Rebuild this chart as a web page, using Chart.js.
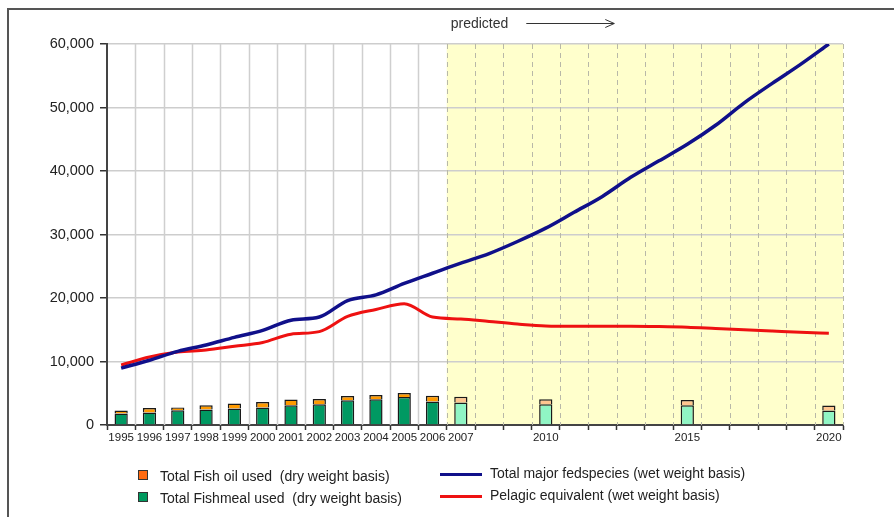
<!DOCTYPE html>
<html>
<head>
<meta charset="utf-8">
<script src="https://cdn.jsdelivr.net/npm/chart.js@4.4.0/dist/chart.umd.min.js"></script>
<style>
body { margin: 0; background: #fff; font-family: 'Liberation Sans', Arial, sans-serif; }
#wrap { position: relative; width: 894px; height: 517px; overflow: hidden; }
#frame { position: absolute; left: 7px; top: 8px; width: 920px; height: 540px; border-top: 2px solid #555; border-left: 2px solid #555; }
canvas { position: absolute; left: 0; top: 0; }
.leg { position: absolute; font-size: 14px; color: #222; white-space: pre; line-height: 16px; }
.sq { position: absolute; width: 8px; height: 8px; border: 1px solid #333; }
.ln { position: absolute; width: 42px; height: 3px; }
</style>
</head>
<body>
<div id="wrap">
  <div id="frame"></div>
  <canvas id="chart" width="894" height="517"></canvas>
  <div class="sq" style="left:138px;top:470px;background:#ff6a10"></div>
  <div class="leg" style="left:160px;top:468px">Total Fish oil used  (dry weight basis)</div>
  <div class="sq" style="left:138px;top:492px;background:#00995e"></div>
  <div class="leg" style="left:160px;top:490px">Total Fishmeal used  (dry weight basis)</div>
  <div class="ln" style="left:440px;top:473px;background:#10108a"></div>
  <div class="leg" style="left:490px;top:465px">Total major fedspecies (wet weight basis)</div>
  <div class="ln" style="left:440px;top:495px;background:#ee1111"></div>
  <div class="leg" style="left:490px;top:487px">Pelagic equivalent (wet weight basis)</div>
</div>
<script>
// categorias (años)
const years = ['1995', '1996', '1997', '1998', '1999', '2000', '2001', '2002', '2003', '2004', '2005', '2006', '2007',
    '2008', '2009', '2010', '2011', '2012', '2013', '2014', '2015', '2016', '2017', '2018', '2019', '2020'];
const labelledYears = ['1995', '1996', '1997', '1998', '1999', '2000', '2001', '2002', '2003', '2004', '2005', '2006', '2007',
    '2010', '2015', '2020'];
const firstPredicted = '2007';

// barras (dry weight basis)
const fishmealUsed = [1800, 1980, 2340, 2440, 2600, 2760, 3120, 3280, 3900, 4060, 4420, 3690, 3540,
    null, null, 3280, null, null, null, null, 3120, null, null, null, null, 2290];
const fishOilUsed = [500, 700, 400, 680, 780, 880, 880, 820, 670, 670, 620, 930, 920,
    null, null, 780, null, null, null, null, 830, null, null, null, null, 780];

// lineas (wet weight basis)
const fedSpecies = [8950, 10200, 11600, 12600, 13800, 14900, 16500, 17000, 19600, 20500, 22300, 23900, 25500,
    27000, 28900, 31000, 33500, 36000, 39000, 41600, 44200, 47200, 50700, 53800, 56800, 60000];
const pelagicEquivalent = [9450, 10700, 11500, 11800, 12400, 13000, 14300, 14700, 17100, 18200, 19100, 17000, 16700,
    16300, 15900, 15600, 15550, 15550, 15550, 15500, 15400, 15200, 15000, 14800, 14600, 14450];

const yTicks = [0, 10000, 20000, 30000, 40000, 50000, 60000];

const predIndex = years.indexOf(firstPredicted);
const isPredicted = i => i >= predIndex;

// fondo amarillo, rejilla vertical y texto "predicted"
const backdrop = {
    id: 'backdrop',
    beforeDraw(chart) {
        const { ctx, chartArea: a, scales: { x } } = chart;
        const step = x.getPixelForValue(1) - x.getPixelForValue(0);
        const start = x.getPixelForValue(predIndex) - step / 2;
        ctx.save();
        ctx.fillStyle = '#ffffcc';
        ctx.fillRect(start, a.top, a.right - start, a.bottom - a.top);
        ctx.restore();
    },
    beforeDatasetsDraw(chart) {
        const { ctx, chartArea: a, scales: { x } } = chart;
        ctx.save();
        for (let i = 1; i <= years.length; i++) {
            const px = Math.round(x.getPixelForValue(i - 0.5)) + 0.5;
            if (i < predIndex) {
                ctx.setLineDash([]);
                ctx.strokeStyle = '#cfcfcf';
                ctx.lineWidth = 1.5;
            } else {
                ctx.setLineDash([5, 4]);
                ctx.strokeStyle = '#b8b8a8';
                ctx.lineWidth = 1;
            }
            ctx.beginPath();
            ctx.moveTo(px, a.top);
            ctx.lineTo(px, a.bottom);
            ctx.stroke();
        }
        ctx.restore();
    },
    afterDraw(chart) {
        const { ctx, chartArea: a, scales: { x } } = chart;
        const step = x.getPixelForValue(1) - x.getPixelForValue(0);
        const start = x.getPixelForValue(predIndex) - step / 2;
        const ty = a.top - 20;
        ctx.save();
        ctx.font = '14px "Liberation Sans", Arial, sans-serif';
        ctx.fillStyle = '#333';
        ctx.textBaseline = 'middle';
        ctx.fillText('predicted', start + 4, ty);
        const x0 = start + 4 + ctx.measureText('predicted').width + 18;
        const x1 = x0 + 88;
        ctx.strokeStyle = '#333';
        ctx.lineWidth = 1;
        ctx.beginPath();
        ctx.moveTo(x0, ty - 0.5);
        ctx.lineTo(x1, ty - 0.5);
        ctx.moveTo(x1 - 9, ty - 4.5);
        ctx.lineTo(x1, ty - 0.5);
        ctx.lineTo(x1 - 9, ty + 3.5);
        ctx.stroke();
        ctx.restore();
    }
};

const font = '"Liberation Sans", Arial, sans-serif';

new Chart(document.getElementById('chart').getContext('2d'), {
    type: 'bar',
    data: {
        labels: years,
        datasets: [
            {
                type: 'line',
                label: 'Total major fedspecies (wet weight basis)',
                data: fedSpecies,
                borderColor: '#10108a',
                borderWidth: 3.5,
                pointRadius: 0,
                cubicInterpolationMode: 'monotone',
                stack: 'fed',
                order: 1
            },
            {
                type: 'line',
                label: 'Pelagic equivalent (wet weight basis)',
                data: pelagicEquivalent,
                borderColor: '#ee1111',
                borderWidth: 3,
                pointRadius: 0,
                cubicInterpolationMode: 'monotone',
                stack: 'pel',
                order: 1
            },
            {
                label: 'Total Fishmeal used  (dry weight basis)',
                data: fishmealUsed,
                backgroundColor: c => isPredicted(c.dataIndex) ? '#90f5c4' : '#009962',
                borderColor: '#1a1a1a',
                borderWidth: 1.5,
                barPercentage: 0.9,
                categoryPercentage: 0.52,
                stack: 'fish',
                order: 2
            },
            {
                label: 'Total Fish oil used  (dry weight basis)',
                data: fishOilUsed,
                backgroundColor: c => isPredicted(c.dataIndex) ? '#ffc690' : '#ff9a00',
                borderColor: '#1a1a1a',
                borderWidth: 1.5,
                barPercentage: 0.9,
                categoryPercentage: 0.52,
                stack: 'fish',
                order: 2
            }
        ]
    },
    options: {
        responsive: false,
        animation: false,
        layout: { padding: { left: 0, top: 44, right: 51, bottom: 72 } },
        plugins: {
            legend: { display: false },
            tooltip: { enabled: false }
        },
        scales: {
            x: {
                stacked: true,
                offset: true,
                afterFit: s => { s.height = 20; },
                grid: {
                    offset: true,
                    drawOnChartArea: false,
                    tickLength: 5,
                    tickColor: '#333',
                    tickWidth: 1.5
                },
                border: { color: '#444', width: 2 },
                ticks: {
                    autoSkip: false,
                    maxRotation: 0,
                    padding: 1,
                    color: '#222',
                    font: { family: font, size: 11.5 },
                    callback: function (v) {
                        const lab = this.getLabelForValue(v);
                        return labelledYears.includes(lab) ? lab : '';
                    }
                }
            },
            y: {
                stacked: true,
                min: yTicks[0],
                max: yTicks[yTicks.length - 1],
                afterFit: s => { s.width = 107; },
                afterBuildTicks: s => { s.ticks = yTicks.map(v => ({ value: v })); },
                grid: {
                    color: '#cdcdcd',
                    lineWidth: 1.5,
                    tickLength: 7,
                    tickColor: '#333',
                    tickWidth: 1.5
                },
                border: { color: '#444', width: 2 },
                ticks: {
                    padding: 6,
                    color: '#222',
                    font: { family: font, size: 14.5 },
                    callback: v => v.toLocaleString('en-US')
                }
            }
        }
    },
    plugins: [backdrop]
});
</script>
</body>
</html>
